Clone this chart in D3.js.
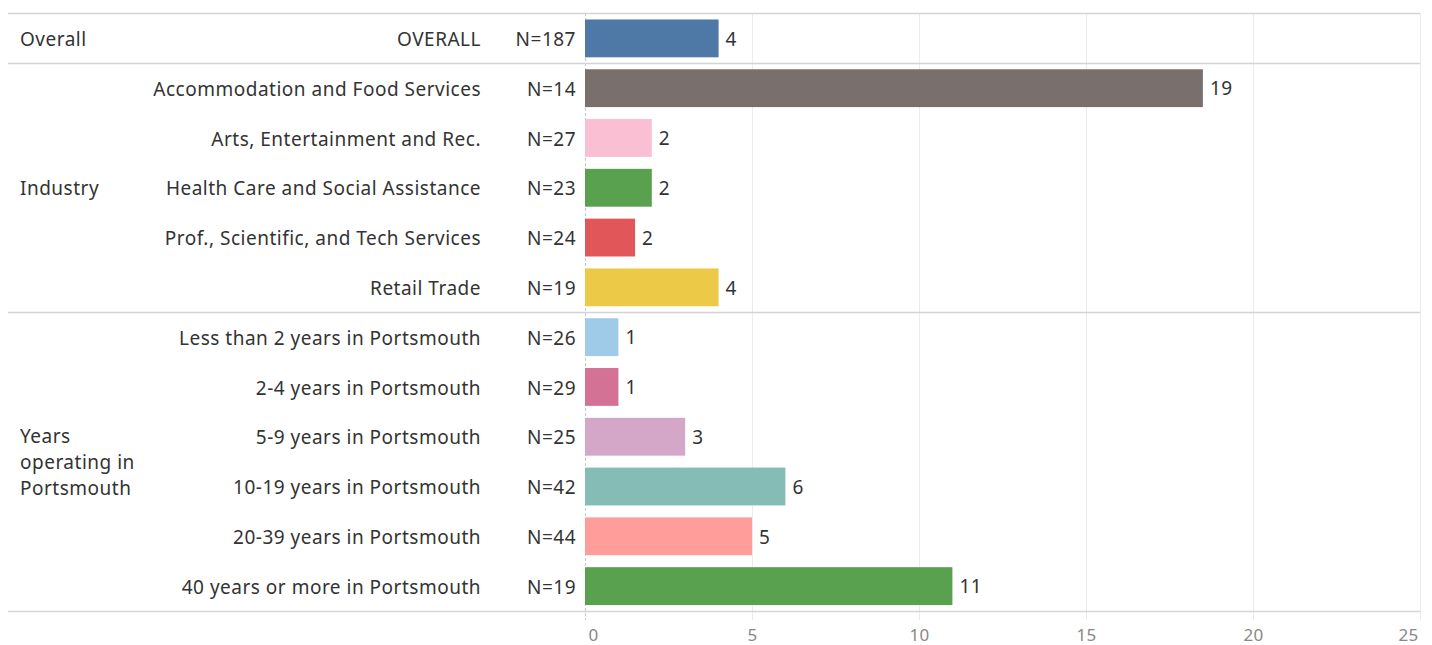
<!DOCTYPE html>
<meta charset="utf-8" />
<title>Bar chart by group</title>
<style>
  body { margin: 0; background: #fff; }
  text { font-family: "Noto Sans", sans-serif; fill: #333; }
  .lbl { font-size: 19px; letter-spacing: 0.5px; }
  .tick text { fill: #888; font-size: 17px; letter-spacing: 0.3px; }
</style>
<body>
<script src="https://cdn.jsdelivr.net/npm/d3@7"></script>
<script>
  // data
  var groups = ["Overall", "Industry", "Years operating in Portsmouth"];
  var categories = [
    "OVERALL",
    "Accommodation and Food Services",
    "Arts, Entertainment and Rec.",
    "Health Care and Social Assistance",
    "Prof., Scientific, and Tech Services",
    "Retail Trade",
    "Less than 2 years in Portsmouth",
    "2-4 years in Portsmouth",
    "5-9 years in Portsmouth",
    "10-19 years in Portsmouth",
    "20-39 years in Portsmouth",
    "40 years or more in Portsmouth"
  ];
  var categoryGroup = [0, 1, 1, 1, 1, 1, 2, 2, 2, 2, 2, 2];
  var counts = [187, 14, 27, 23, 24, 19, 26, 29, 25, 42, 44, 19];
  var values = [4, 18.5, 2, 2, 1.5, 4, 1, 1, 3, 6, 5, 11];
  var colors = ["#4e79a7", "#79706e", "#fabfd2", "#59a14f", "#e15759", "#edc948",
                "#a0cbe8", "#d37295", "#d4a6c8", "#86bcb6", "#ff9d9a", "#59a14f"];
  var xTicks = [0, 5, 10, 15, 20, 25];

  var width = 1432, height = 645;
  var plotTop = 13, plotBottom = 611;
  var plotLeft = 585, plotRight = 1420;

  var svg = d3.select("body").append("svg")
    .attr("width", width)
    .attr("height", height);

  var x = d3.scaleLinear().domain([0, 25]).range([plotLeft, plotRight]);
  var y = d3.scaleBand().domain(d3.range(categories.length))
    .range([plotTop + 0.5, plotBottom]).paddingInner(0.24).paddingOuter(0.12);

  // vertical gridlines
  svg.selectAll(".grid").data(xTicks.slice(1)).enter().append("line")
    .attr("x1", function (d) { return Math.round(x(d)) + 0.5; })
    .attr("x2", function (d) { return Math.round(x(d)) + 0.5; })
    .attr("y1", plotTop).attr("y2", plotBottom + 9)
    .attr("stroke", "#ebebeb").attr("stroke-width", 1);

  // zero line
  svg.append("line")
    .attr("x1", x(0) + 0.5).attr("x2", x(0) + 0.5)
    .attr("y1", plotTop).attr("y2", plotBottom + 9)
    .attr("stroke", "#c8c8c8").attr("stroke-dasharray", "3,2");

  // group separators
  var half = y.step() * y.paddingInner() / 2;
  var seps = [plotTop, y(1) - half, y(6) - half, plotBottom];
  svg.selectAll(".sep").data(seps).enter().append("line")
    .attr("x1", 8).attr("x2", plotRight)
    .attr("y1", function (d) { return Math.round(d) + 0.5; })
    .attr("y2", function (d) { return Math.round(d) + 0.5; })
    .attr("stroke", "#d4d4d4").attr("stroke-width", 1.5);

  // bars
  svg.selectAll(".bar").data(values).enter().append("rect")
    .attr("x", x(0))
    .attr("y", function (d, i) { return y(i); })
    .attr("width", function (d) { return x(d) - x(0); })
    .attr("height", y.bandwidth())
    .attr("fill", function (d, i) { return colors[i]; });

  // value labels
  svg.selectAll(".val").data(values).enter().append("text")
    .attr("class", "lbl")
    .attr("x", function (d) { return x(d) + 7; })
    .attr("y", function (d, i) { return y(i) + y.bandwidth() / 2; })
    .attr("dy", "0.38em")
    .text(function (d) { return Math.round(d); });

  // category labels
  svg.selectAll(".cat").data(categories).enter().append("text")
    .attr("class", "lbl")
    .attr("x", 481)
    .attr("y", function (d, i) { return y(i) + y.bandwidth() / 2; })
    .attr("dy", "0.4em")
    .attr("text-anchor", "end")
    .text(function (d) { return d; });

  // N labels
  svg.selectAll(".n").data(counts).enter().append("text")
    .attr("class", "lbl")
    .attr("x", 576)
    .attr("y", function (d, i) { return y(i) + y.bandwidth() / 2; })
    .attr("dy", "0.4em")
    .attr("text-anchor", "end")
    .text(function (d) { return "N=" + d; });

  // group labels
  var groupLines = [["Overall"], ["Industry"], ["Years", "operating in", "Portsmouth"]];
  groupLines.forEach(function (lines, g) {
    var idx = categoryGroup.map(function (c, i) { return c === g ? i : -1; })
      .filter(function (i) { return i >= 0; });
    var cy = (y(idx[0]) + y(idx[idx.length - 1]) + y.bandwidth()) / 2;
    var t = svg.append("text").attr("class", "lbl").attr("x", 20);
    lines.forEach(function (l, k) {
      t.append("tspan").attr("x", 20)
        .attr("y", cy + (k - (lines.length - 1) / 2) * 26)
        .attr("dy", "0.4em")
        .text(l);
    });
  });

  // axis
  var axis = svg.append("g")
    .attr("transform", "translate(0," + (plotBottom + 16) + ")")
    .call(d3.axisBottom(x).tickValues(xTicks).tickSize(0).tickPadding(2));
  axis.select(".domain").remove();
  axis.selectAll(".tick text")
    .attr("text-anchor", function (d, i) { return i === 0 ? "start" : i === xTicks.length - 1 ? "end" : "middle"; })
    .attr("dx", function (d, i) { return i === 0 ? 3 : i === xTicks.length - 1 ? -2 : 0; })
    .style("font-family", "'Noto Sans', sans-serif");
</script>
</body>
